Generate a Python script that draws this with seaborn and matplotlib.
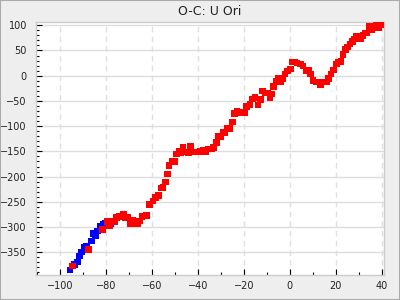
import matplotlib
matplotlib.use("Agg")
import matplotlib.pyplot as plt
import seaborn as sns
import pandas as pd
from matplotlib.ticker import MultipleLocator
from matplotlib.patches import Rectangle

blue_x = [-95.6, -93.8, -92.5, -91.6, -90.7, -89.6, -88.6, -86.4, -85.5, -84.6,
          -83.7, -82.6, -81.2, -80.4, -78.0]
blue_y = [-385, -374, -369, -357, -349, -340, -339, -328, -313, -318,
          -308, -298, -294, -293, -293]

red_x = [-94.6, -87.6, -81.6, -79.4, -78.4, -76.3, -75.4, -74.3, -72.5, -71.5,
         -70.4, -69.4, -68.4, -67.4, -66.4, -65.4, -64.3, -62.5, -61.0, -59.6,
         -58.4, -57.2, -56.0, -55.3, -54.2, -53.3, -52.5, -51.0, -50.1, -49.3,
         -48.1, -47.3, -46.4, -45.2, -44.2, -43.3, -42.3, -41.0, -39.7, -38.8,
         -37.7, -36.8, -35.3, -34.0, -33.3, -32.0, -31.1, -30.2, -29.0, -28.2,
         -27.3, -26.1, -25.0, -24.0, -22.9, -21.7, -20.7, -19.7, -18.8, -17.4,
         -16.2, -15.1, -13.9, -12.7, -11.9, -10.7, -9.6, -8.7, -7.8, -7.0,
         -6.1, -4.9, -3.8, -3.2, -2.0, -0.9, 0.3, 0.9, 2.0, 3.2,
         4.7, 5.8, 7.2, 8.4, 9.0, 10.1, 11.6, 13.0, 13.3, 14.8,
         15.9, 16.8, 18.0, 19.1, 20.3, 21.2, 22.3, 23.2, 24.3, 25.2,
         26.1, 27.3, 28.1, 29.0, 30.1, 31.0, 31.8, 32.7, 33.5, 34.5,
         35.7, 36.5, 37.7, 38.6, 39.4]
red_y = [-377, -344, -305, -289, -297, -289, -281, -279, -274, -281,
         -281, -294, -286, -293, -294, -288, -279, -277, -255, -248,
         -241, -237, -223, -222, -211, -195, -178, -170, -170, -155,
         -149, -153, -142, -151, -152, -140, -151, -151, -151, -150,
         -148, -151, -145, -145, -142, -132, -119, -121, -112, -113,
         -105, -105, -92, -75, -71, -73, -73, -73, -61, -57,
         -46, -43, -58, -47, -30, -34, -34, -43, -36, -21,
         -11, -6, -12, -6, 3, 9, 13, 27, 27, 25,
         23, 19, 10, 10, 3, -9, -12, -12, -18, -12,
         -12, -5, 3, 11, 23, 27, 28, 42, 52, 57,
         63, 68, 73, 79, 79, 73, 80, 85, 85, 98,
         91, 98, 101, 95, 102]

title = "O-C: U Ori"

df = pd.concat([
    pd.DataFrame({"E": blue_x, "OC": blue_y, "kind": "blue"}),
    pd.DataFrame({"E": red_x, "OC": red_y, "kind": "red"}),
], ignore_index=True)

sns.set_style("white")
plt.rcParams['font.family'] = ['DejaVu Sans']

fig = plt.figure(figsize=(4, 3), dpi=100, facecolor="#eeeeee")
ax = fig.add_axes([0.09, 0.0833, 0.87, 0.8434])
ax.set_facecolor("white")

sns.scatterplot(data=df, x="E", y="OC", hue="kind",
                palette={"red": "#ff0000", "blue": "#0000ff"},
                marker="s", s=22, linewidth=0, legend=False, ax=ax, zorder=3)

ax.set_xlim(-110.5, 41)
ax.set_ylim(-395, 106.5)
ax.xaxis.set_major_locator(MultipleLocator(20))
ax.xaxis.set_minor_locator(MultipleLocator(10))
ax.yaxis.set_major_locator(MultipleLocator(50))
ax.yaxis.set_minor_locator(MultipleLocator(10))

ax.grid(True, axis="y", which="major", color="#dddddd", linewidth=1, linestyle="-")
ax.grid(True, axis="x", which="major", color="#e0e0e0", linewidth=1, linestyle=(0, (4, 3)))
ax.set_axisbelow(True)

for sp in ax.spines.values():
    sp.set_color("#cccccc")
    sp.set_linewidth(1)

ax.tick_params(axis="both", which="major", direction="in", length=4, width=0.8,
               color="black", labelsize=7, labelcolor="#222222")
ax.tick_params(axis="both", which="minor", direction="in", length=2, width=0.8,
               color="black")
ax.tick_params(axis="y", which="both", left=True, right=False, pad=6.5)
ax.tick_params(axis="x", which="both", bottom=True, top=False, pad=4)

ax.set_xlabel("")
ax.set_ylabel("")
ax.set_title(title, fontsize=9, color="#222222", pad=5)

fig.patches.append(Rectangle((0, 0), 1, 1, transform=fig.transFigure,
                             fill=False, edgecolor="#aaaaaa", linewidth=1.5))

fig.savefig("out.png", dpi=100, facecolor=fig.get_facecolor())
